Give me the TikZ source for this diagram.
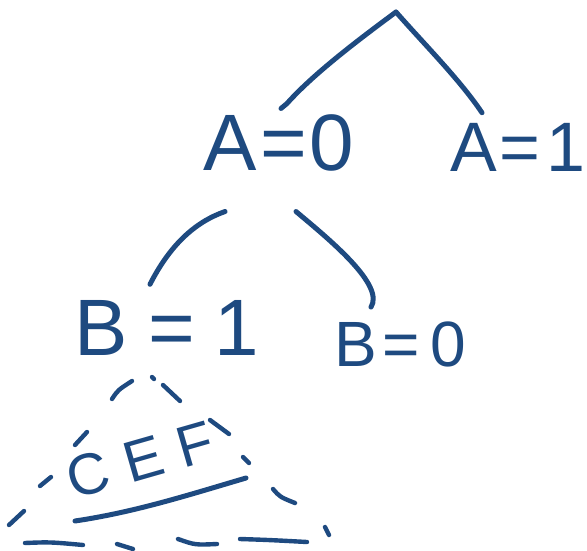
\documentclass[tikz,border=0pt]{standalone}
\usepackage{fontspec}
\usetikzlibrary{calc}
\newfontfamily\hand{Liberation Sans}
\definecolor{ink}{HTML}{1E4A80}
\begin{document}
\begin{tikzpicture}[x=1pt,y=-1pt,
  pen/.style={draw=ink,line width=5pt,line cap=round,line join=round},
  lbl/.style={text=ink,font=\hand\fontsize{80}{80}\selectfont,inner sep=0pt,anchor=center}]
\useasboundingbox (0,0) rectangle (587,550);
% labels
\node[lbl] (a0) at (279,143) {A\hspace{3pt}=\hspace{3pt}0};
\node[lbl,font=\hand\fontsize{70}{70}\selectfont] (a1) at (518,147) {A\hspace{3pt}=\hspace{6pt}1};
\node[lbl] (b1) at (167,328) {B\hspace{20pt}=\hspace{20pt}1};
\node[lbl,font=\hand\fontsize{64}{64}\selectfont] (b0) at (400,344) {B\hspace{6pt}=\hspace{10pt}0};
\node[lbl,font=\hand\fontsize{58}{58}\selectfont,rotate=16] (cef) at (140,460) {C\hspace{18pt}E\hspace{16pt}F};
% root and edges
\coordinate (root) at (396,12);
\draw[pen] (root) .. controls (365,35) and (315,72) .. ($(a0.north)+(8,-11)$) -- ++(-6,5);
\draw[pen] (root) .. controls (425,45) and (460,80) .. ($(a1.north)+(-36,-10)$);
\draw[pen] ($(a0.south)+(-54,40)$) .. controls (195,222) and (170,245) .. ($(b1.north)+(-17,-16)$);
\draw[pen] ($(a0.south)+(17,40)$) .. controls (330,240) and (385,285) .. ($(b0.north)+(-29,-14)$);
% underline of CEF
\draw[pen] (75,521) .. controls (135,512) and (185,496) .. (246,478);
% dashed subtree triangle
\begin{scope}[pen,line width=4.4pt]
\draw (112,399) .. controls (118,390) .. (132,381);
\draw (152,377) -- (154,379);
\draw (163,385) -- (180,401);
\draw (75,445) -- (87,432);
\draw (40,486) -- (51,477);
\draw (9,525) -- (24,511);
\draw (210,420) -- (229,434);
\draw (243,457) -- (249,463);
\draw (273,489) .. controls (280,497) .. (295,503);
\draw (325,527) -- (329,535);
\draw (25,543) .. controls (50,542) .. (83,545);
\draw (117,544) -- (133,549);
\draw (178,539) .. controls (195,545) .. (217,544);
\draw (240,539) .. controls (270,540) .. (307,542);
\end{scope}
\end{tikzpicture}
\end{document}
